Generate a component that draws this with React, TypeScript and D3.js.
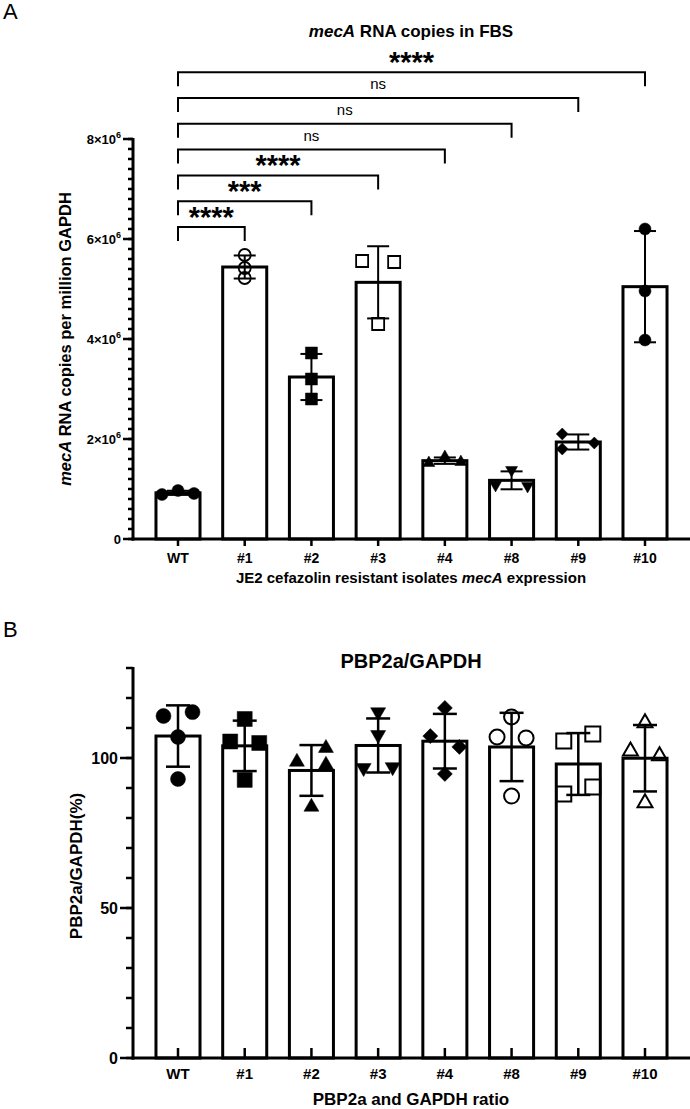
import React from 'react'
import * as d3 from 'd3'

const categories = ['WT', '#1', '#2', '#3', '#4', '#8', '#9', '#10']

// A: mecA RNA copies per million GAPDH, three replicates per isolate
const mecaValues = [
  [0.89e6, 0.97e6, 0.91e6],
  [5.68e6, 5.42e6, 5.22e6],
  [3.72e6, 3.2e6, 2.8e6],
  [5.56e6, 5.54e6, 4.3e6],
  [1.52e6, 1.64e6, 1.54e6],
  [1.38e6, 1.08e6, 1.06e6],
  [2.1e6, 1.92e6, 1.8e6],
  [6.2e6, 4.96e6, 3.98e6],
]
const mecaTicks = [0, 2e6, 4e6, 6e6, 8e6]

// significance brackets from WT, drawn bottom to top
const sigTargets = ['#1', '#2', '#3', '#4', '#8', '#9', '#10']
const sigLabels = ['****', '***', '****', 'ns', 'ns', 'ns', '****']

// B: PBP2a/GAPDH (%), four replicates per isolate
const pbpValues = [
  [114, 115.3, 107, 93],
  [113, 105.5, 105, 92.7],
  [98.7, 103.3, 97.7, 83.7],
  [115.3, 107.7, 96.7, 97],
  [116.7, 107.3, 103.7, 94.7],
  [113.7, 107, 106.7, 87.3],
  [105.7, 108, 88, 90.3],
  [111.7, 102.3, 100.7, 85],
]
const pbpTicks = [0, 50, 100]

const markersA = [
  { shape: 'circle', filled: true },
  { shape: 'circle', filled: false },
  { shape: 'square', filled: true },
  { shape: 'square', filled: false },
  { shape: 'triangle', filled: true },
  { shape: 'triangleDown', filled: true },
  { shape: 'diamond', filled: true },
  { shape: 'circle', filled: true },
]
const markersB = [
  { shape: 'circle', filled: true },
  { shape: 'square', filled: true },
  { shape: 'triangle', filled: true },
  { shape: 'triangleDown', filled: true },
  { shape: 'diamond', filled: true },
  { shape: 'circle', filled: false },
  { shape: 'square', filled: false },
  { shape: 'triangle', filled: false },
]

const FONT = "'Liberation Sans', Arial, Helvetica, sans-serif"

const x = d3.scaleBand<string>().domain(categories).range([133.3, 689.7]).padding(0.34)
const bw = x.bandwidth()
const cx = (c: string) => (x(c) as number) + bw / 2

const yA = d3.scaleLinear().domain([0, 8e6]).range([539, 139])
const yB = d3.scaleLinear().domain([0, 130]).range([1058, 668])

function markerPath(shape: string, s: number) {
  if (shape === 'circle') return d3.symbol(d3.symbolCircle, Math.PI * (s / 2) ** 2)() as string
  if (shape === 'square') return d3.symbol(d3.symbolSquare, s * s)() as string
  if (shape === 'diamond') return d3.symbol(d3.symbolSquare, (s / Math.SQRT2) ** 2)() as string
  return d3.symbol(d3.symbolTriangle, (Math.sqrt(3) / 4) * s * s)() as string
}
function markerRotate(shape: string) {
  if (shape === 'triangleDown') return 180
  if (shape === 'diamond') return 45
  return 0
}

// spread points that overlap vertically into lanes across the bar (scatter-dot style)
function swarm(py: number[], thresh: number, spread: number) {
  const n = py.length
  const comp = new Array(n).fill(-1)
  let nc = 0
  for (let i = 0; i < n; i++) {
    if (comp[i] >= 0) continue
    const stack = [i]
    comp[i] = nc
    while (stack.length) {
      const a = stack.pop() as number
      for (let b = 0; b < n; b++) {
        if (comp[b] < 0 && Math.abs(py[a] - py[b]) < thresh) {
          comp[b] = nc
          stack.push(b)
        }
      }
    }
    nc++
  }
  const lane = new Array(n).fill(0)
  const offs = new Array(n).fill(0)
  for (let c = 0; c < nc; c++) {
    const idx = d3.range(n).filter(i => comp[i] === c)
    idx.forEach((i, k) => {
      const used = new Set(idx.slice(0, k).filter(j => Math.abs(py[i] - py[j]) < thresh).map(j => lane[j]))
      let l = 0
      while (used.has(l)) l++
      lane[i] = l
    })
    const nl = d3.max(idx, i => lane[i])! + 1
    idx.forEach(i => {
      offs[i] = nl === 1 ? 0 : -spread + (lane[i] * 2 * spread) / (nl - 1)
    })
  }
  return offs
}

const Bars = ({ y, values, markers, size, thresh, capW, errW, strokeW }: any) => (
  <g>
    {categories.map((c, i) => {
      const vals: number[] = values[i]
      const m = d3.mean(vals) as number
      const sd = d3.deviation(vals) as number
      const py = vals.map(v => y(v))
      const offs = swarm(py, thresh, (bw - size) / 2)
      const mk = markers[i]
      const path = markerPath(mk.shape, size)
      return (
        <g key={c}>
          <rect x={x(c)} y={y(m)} width={bw} height={y(0) - y(m)} fill="#fff" stroke="#000" strokeWidth={3} />
          <g stroke="#000" strokeWidth={errW}>
            <line x1={cx(c)} x2={cx(c)} y1={y(m + sd)} y2={y(m - sd)} />
            <line x1={cx(c) - capW / 2} x2={cx(c) + capW / 2} y1={y(m + sd)} y2={y(m + sd)} />
            <line x1={cx(c) - capW / 2} x2={cx(c) + capW / 2} y1={y(m - sd)} y2={y(m - sd)} />
          </g>
          {vals.map((v, j) => (
            <path
              key={j}
              d={path}
              transform={`translate(${cx(c) + offs[j]},${py[j]}) rotate(${markerRotate(mk.shape)})`}
              fill={mk.filled ? '#000' : 'none'}
              stroke="#000"
              strokeWidth={mk.filled ? 0.5 : strokeW}
            />
          ))}
        </g>
      )
    })}
  </g>
)

const App = () => {
  const minorA = d3.range(0, 8e6 + 1, 2e5)
  const minorB = d3.range(0, 131, 10)
  const bracketBase = 227
  const bracketStep = 25.8
  return (
    <svg
      width={690}
      height={1109}
      style={{ position: 'absolute', left: 0, top: 0, background: '#fff' }}
      fontFamily={FONT}
    >
      <rect width={690} height={1109} fill="#fff" />

      {/* ---------- panel A ---------- */}
      <text x={3} y={19} fontSize={22}>A</text>
      <text x={411} y={37} fontSize={17} fontWeight="bold" textAnchor="middle">
        <tspan fontStyle="italic">mecA</tspan> RNA copies in FBS
      </text>

      {sigTargets.map((t, i) => {
        const ly = bracketBase - i * bracketStep
        const x1 = cx('WT')
        const x2 = cx(t)
        const lab = sigLabels[i]
        const stars = lab !== 'ns'
        return (
          <g key={t}>
            <path d={`M${x1},${ly + 14}V${ly}H${x2}V${ly + 14}`} fill="none" stroke="#000" strokeWidth={2} />
            <text
              x={(x1 + x2) / 2}
              y={stars ? ly + 0 : ly - 9}
              textAnchor="middle"
              fontSize={stars ? 29 : 15}
              fontWeight={stars ? 'bold' : 'normal'}
            >
              {lab}
            </text>
          </g>
        )
      })}

      <Bars y={yA} values={mecaValues} markers={markersA} size={12} thresh={9.5} capW={22} errW={2} strokeW={1.8} />

      {/* y axis A */}
      <g stroke="#000">
        <line x1={133} x2={133} y1={yA(8e6) - 1} y2={yA(0) + 1.5} strokeWidth={3} />
        {minorA.map(v => (
          <line key={v} x1={128} x2={133} y1={yA(v)} y2={yA(v)} strokeWidth={2.5} />
        ))}
        {mecaTicks.map(v => (
          <line key={v} x1={123} x2={133} y1={yA(v)} y2={yA(v)} strokeWidth={2.5} />
        ))}
      </g>
      {mecaTicks.map(v => (
        <text key={v} x={121} y={yA(v) + 4.5} textAnchor="end" fontSize={13} fontWeight="bold">
          {v === 0 ? '0' : `${v / 1e6}×10`}
          {v !== 0 && (
            <tspan fontSize={9} dy={-5.5}>
              6
            </tspan>
          )}
        </text>
      ))}
      <text
        transform={`translate(71,339) rotate(-90)`}
        textAnchor="middle"
        fontSize={16.5}
        fontWeight="bold"
      >
        <tspan fontStyle="italic">mecA</tspan> RNA copies per million GAPDH
      </text>

      {/* x axis A */}
      <g stroke="#000">
        <line x1={131.5} x2={690} y1={yA(0)} y2={yA(0)} strokeWidth={3} />
        {categories.map(c => (
          <line key={c} x1={cx(c)} x2={cx(c)} y1={yA(0)} y2={yA(0) + 7} strokeWidth={2.5} />
        ))}
      </g>
      {categories.map(c => (
        <text key={c} x={cx(c)} y={563} textAnchor="middle" fontSize={14} fontWeight="bold">
          {c}
        </text>
      ))}
      <text x={411} y={583} textAnchor="middle" fontSize={15} fontWeight="bold">
        JE2 cefazolin resistant isolates <tspan fontStyle="italic">mecA</tspan> expression
      </text>

      {/* ---------- panel B ---------- */}
      <text x={3} y={637} fontSize={22}>B</text>
      <text x={411} y={668} fontSize={20} fontWeight="bold" textAnchor="middle">
        PBP2a/GAPDH
      </text>

      <Bars y={yB} values={pbpValues} markers={markersB} size={15} thresh={15} capW={24} errW={2.5} strokeW={2} />

      <g stroke="#000">
        <line x1={133} x2={133} y1={yB(130) - 1} y2={yB(0) + 1.5} strokeWidth={3} />
        {minorB.map(v => (
          <line key={v} x1={126} x2={133} y1={yB(v)} y2={yB(v)} strokeWidth={2.5} />
        ))}
        {pbpTicks.map(v => (
          <line key={v} x1={120} x2={133} y1={yB(v)} y2={yB(v)} strokeWidth={2.5} />
        ))}
      </g>
      {pbpTicks.map(v => (
        <text key={v} x={118} y={yB(v) + 6} textAnchor="end" fontSize={16} fontWeight="bold">
          {v}
        </text>
      ))}
      <text
        transform={`translate(82,866) rotate(-90)`}
        textAnchor="middle"
        fontSize={17}
        fontWeight="bold"
      >
        PBP2a/GAPDH(%)
      </text>

      <g stroke="#000">
        <line x1={131.5} x2={690} y1={yB(0)} y2={yB(0)} strokeWidth={3} />
        {categories.map(c => (
          <line key={c} x1={cx(c)} x2={cx(c)} y1={yB(0)} y2={yB(0) - 10} strokeWidth={2.5} />
        ))}
      </g>
      {categories.map(c => (
        <text key={c} x={cx(c)} y={1079} textAnchor="middle" fontSize={15} fontWeight="bold">
          {c}
        </text>
      ))}
      <text x={411} y={1105} textAnchor="middle" fontSize={17} fontWeight="bold">
        PBP2a and GAPDH ratio
      </text>
    </svg>
  )
}

export default App
